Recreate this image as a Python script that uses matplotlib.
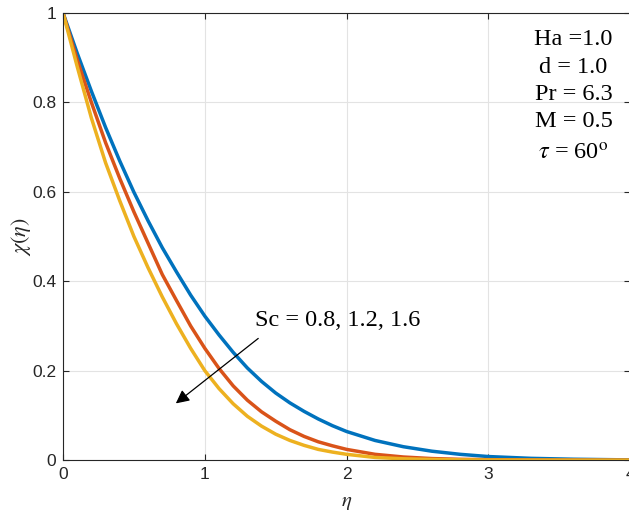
import matplotlib.pyplot as plt

plt.rcParams['font.family'] = ['Liberation Sans', 'DejaVu Sans']
plt.rcParams['mathtext.fontset'] = 'stix'

# values
eta = [0, 0.1, 0.2, 0.3, 0.4, 0.5, 0.6, 0.7, 0.8, 0.9, 1.0, 1.1, 1.2, 1.3, 1.4,
       1.5, 1.6, 1.7, 1.8, 1.9, 2.0, 2.2, 2.4, 2.6, 2.8, 3.0, 3.3, 3.6, 4.0]
chi_sc08 = [1, 0.910, 0.825, 0.744, 0.669, 0.599, 0.535, 0.475, 0.421, 0.369,
            0.322, 0.280, 0.241, 0.206, 0.176, 0.150, 0.128, 0.109, 0.092,
            0.077, 0.064, 0.044, 0.030, 0.020, 0.013, 0.008, 0.004, 0.002,
            0.0005]
chi_sc12 = [1, 0.895, 0.800, 0.710, 0.630, 0.555, 0.485, 0.415, 0.357, 0.300,
            0.250, 0.205, 0.166, 0.134, 0.108, 0.087, 0.068, 0.053, 0.041,
            0.032, 0.024, 0.013, 0.007, 0.0035, 0.0018, 0.001, 0.0004, 0.0002,
            0]
chi_sc16 = [1, 0.880, 0.765, 0.665, 0.580, 0.500, 0.430, 0.365, 0.305, 0.250,
            0.200, 0.160, 0.126, 0.098, 0.076, 0.058, 0.044, 0.033, 0.024,
            0.018, 0.013, 0.006, 0.003, 0.0015, 0.0007, 0.0003, 0.0001, 0, 0]

params = ['Ha =1.0', 'd = 1.0', 'Pr = 6.3', 'M = 0.5', r'$\tau$ = 60$^{\mathrm{o}}$']
param_y = [0.94, 0.878, 0.817, 0.757, 0.685]

fig = plt.figure(figsize=(6.29, 5.17), dpi=100)
ax = fig.add_axes([0.1002, 0.110, 0.9018, 0.865])

for vals, c in [(chi_sc08, '#0072BD'), (chi_sc12, '#D95319'), (chi_sc16, '#EDB120')]:
    ax.plot(eta, vals, color=c, lw=2.5, solid_joinstyle='round')

ax.set_xlim(0, 4)
ax.set_ylim(0, 1)
ax.set_xticks([0, 1, 2, 3, 4])
ax.set_yticks([0, 0.2, 0.4, 0.6, 0.8, 1])
ax.set_yticklabels(['0', '0.2', '0.4', '0.6', '0.8', '1'])
ax.grid(True, color='#e3e3e3', lw=0.8)
ax.tick_params(direction='in', top=True, right=True, labelsize=12.5,
               colors='#262626', length=4, width=0.8, pad=5)
for s in ax.spines.values():
    s.set_color('#262626')
    s.set_linewidth(0.8)

ax.set_xlabel(r'$\eta$', fontsize=15, color='#262626', labelpad=8)
ax.set_ylabel(r'$\chi(\eta)$', fontsize=16, color='#262626', labelpad=-1)

for t, y in zip(params, param_y):
    ax.text(3.6, y, t, fontsize=17.5, family='Liberation Serif',
            ha='center', va='center')

ax.text(1.357, 0.313, 'Sc = 0.8, 1.2, 1.6', fontsize=17.5,
        family='Liberation Serif', ha='left', va='center')
ax.annotate('', xy=(0.78, 0.123), xytext=(1.392, 0.276),
            arrowprops=dict(arrowstyle='-|>', color='k', lw=0.9,
                            mutation_scale=20))

fig.savefig('out.png', dpi=100)
